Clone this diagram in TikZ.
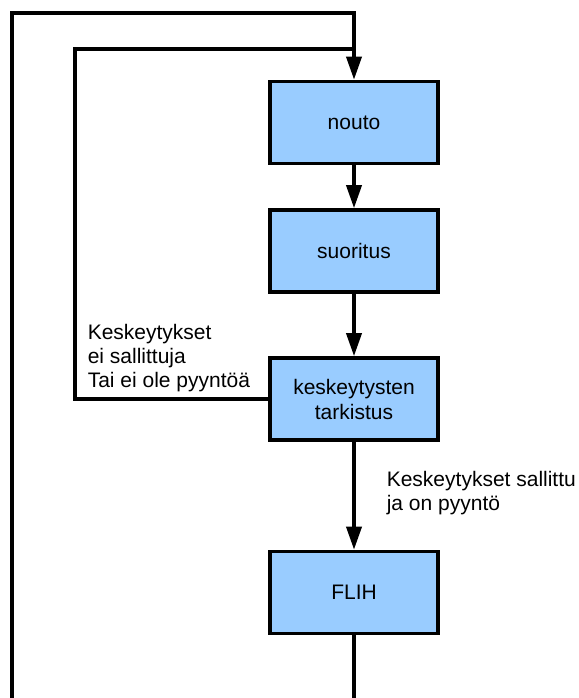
\documentclass[tikz,border=0pt]{standalone}
\usepackage{fontspec}
\setmainfont{Liberation Sans}
\usetikzlibrary{arrows.meta}
\definecolor{boxblue}{HTML}{99CCFF}
\begin{document}
\begin{tikzpicture}[x=1pt,y=-1pt,
  line width=3.6pt,
  stepbox/.style={draw=black,fill=boxblue,minimum width=168pt,minimum height=82pt,
    align=center,inner sep=2pt,font=\fontsize{21}{25}\selectfont},
  lbl/.style={align=left,inner sep=0pt,font=\fontsize{21}{24}\selectfont,anchor=base west},
  arr/.style={-{Triangle[length=23pt,width=15pt]}}]
\useasboundingbox[fill=white] (0,0) rectangle (578,698);
\node[stepbox] (nouto) at (354,122.5) {nouto};
\node[stepbox] (suor) at (354,251) {suoritus};
\node[stepbox] (chk) at (354,399) {keskeytysten\\tarkistus};
\node[stepbox] (flih) at (354,592.5) {FLIH};
\node[lbl] (l1) at (86,387) {Keskeytykset\\ei sallittuja\\Tai ei ole pyyntöä};
\node[lbl] (l2) at (385,510) {Keskeytykset sallittu\\ja on pyyntö};
\coordinate (ob) at (354,705);
\coordinate (lb) at (12,705);
\coordinate (t1) at (354,13);
\coordinate (i1) at (75,49);
\coordinate (i2) at (354,49);
\draw[arr] (lb) |- (t1) -- (nouto.north);
\draw (chk.west) -| (i1) -- (i2);
\draw[arr] (nouto) -- (suor);
\draw[arr] (suor) -- (chk);
\draw[arr] (chk) -- (flih);
\draw (flih.south) -- (ob);
\end{tikzpicture}
\end{document}
